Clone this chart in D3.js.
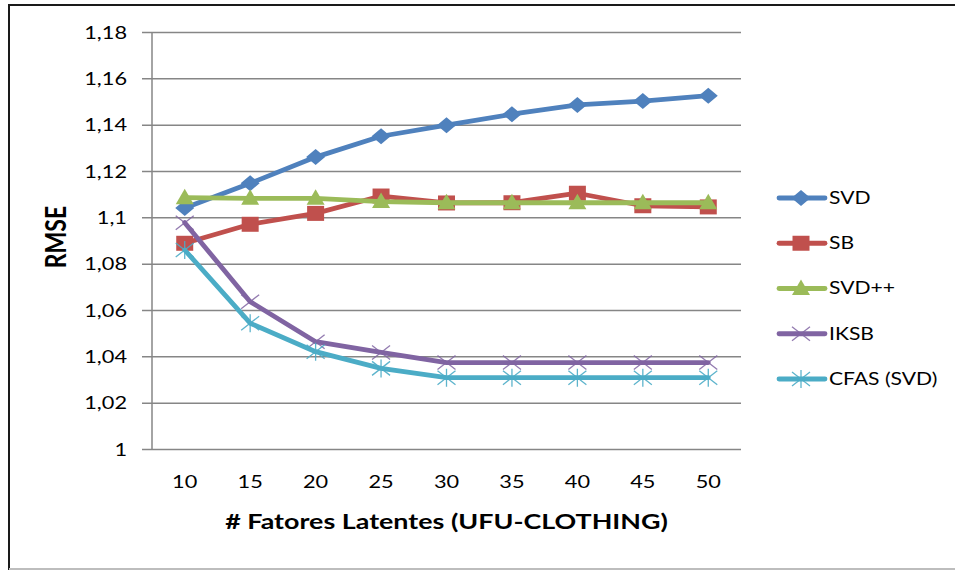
<!DOCTYPE html>
<html>
<head>
<meta charset="utf-8">
<script src="https://cdn.jsdelivr.net/npm/d3@7"></script>
<style>
  html, body { margin: 0; padding: 0; background: #fff; }
  svg { display: block; }
  text { font-family: Lato, "Open Sans", "Liberation Sans", sans-serif; }
</style>
</head>
<body>
<svg id="chart" width="955" height="570"></svg>
<script>
// ---- data ----
const categories = ["10", "15", "20", "25", "30", "35", "40", "45", "50"];
const seriesNames = ["SVD", "SB", "SVD++", "IKSB", "CFAS (SVD)"];
const svdValues   = [1.104, 1.1147, 1.126, 1.135, 1.1398, 1.1445, 1.1485, 1.1502, 1.1525];
const sbValues    = [1.0888, 1.097, 1.1017, 1.1092, 1.1062, 1.1063, 1.1104, 1.105, 1.1045];
const svdppValues = [1.1085, 1.1082, 1.1082, 1.1068, 1.1063, 1.1063, 1.1063, 1.1063, 1.1063];
const iksbValues  = [1.0977, 1.0636, 1.0463, 1.0417, 1.0373, 1.0373, 1.0373, 1.0373, 1.0373];
const cfasValues  = [1.0859, 1.0543, 1.042, 1.0348, 1.0308, 1.0308, 1.0308, 1.0308, 1.0308];
const yTicks      = [1, 1.02, 1.04, 1.06, 1.08, 1.1, 1.12, 1.14, 1.16, 1.18];
const yTickLabels = ["1", "1,02", "1,04", "1,06", "1,08", "1,1", "1,12", "1,14", "1,16", "1,18"];
const xTitle = "# Fatores Latentes (UFU-CLOTHING)";
const yTitle = "RMSE";

const seriesValues = [svdValues, sbValues, svdppValues, iksbValues, cfasValues];
const colors  = ["#4F81BD", "#C0504D", "#9BBB59", "#8064A2", "#4BACC6"];
const markers = ["diamond", "square", "triangle", "x", "asterisk"];

// ---- layout ----
const SX = 1.28; // horizontal stretch of the reference picture
const svg = d3.select("#chart");
const plot = { left: 152, right: 741, top: 32, bottom: 449 };

const x = d3.scaleBand().domain(categories).range([plot.left, plot.right]).padding(0);
const y = d3.scaleLinear().domain([1, 1.18]).range([plot.bottom, plot.top]);
const cx = c => x(c) + x.bandwidth() / 2;

// outer frame
svg.append("rect").attr("x", 9).attr("y", 5).attr("width", 960).attr("height", 564)
  .attr("fill", "none").attr("stroke", "#1a1a1a").attr("stroke-width", 2);
svg.append("line").attr("x1", 9).attr("x2", 955).attr("y1", 569).attr("y2", 569)
  .attr("stroke", "#bdbdbd").attr("stroke-width", 2);

// y axis (gridlines + labels)
const yAxis = d3.axisLeft(y).tickValues(yTicks)
  .tickFormat((d, i) => yTickLabels[i])
  .tickSize(-(plot.right - plot.left) - 10).tickPadding(15);
const gy = svg.append("g").attr("transform", `translate(${plot.left - 10},0)`).call(yAxis);
gy.select(".domain").remove();
gy.selectAll(".tick line").attr("stroke", "#868686").attr("stroke-width", 1.5);
gy.selectAll(".tick text").attr("fill", "#000").attr("font-size", 17).attr("dy", "0.36em")
  .attr("x", 0).attr("transform", `translate(-15,0) scale(${SX},1)`);

// y axis line
svg.append("line").attr("x1", plot.left).attr("x2", plot.left)
  .attr("y1", plot.top).attr("y2", plot.bottom)
  .attr("stroke", "#868686").attr("stroke-width", 1.5);

// x axis labels
const xAxis = d3.axisBottom(x).tickSize(0).tickPadding(0);
const gx = svg.append("g").attr("transform", `translate(0,${plot.bottom})`).call(xAxis);
gx.select(".domain").remove();
gx.selectAll(".tick text").attr("fill", "#000").attr("font-size", 17)
  .attr("y", 0).attr("dy", "0.36em").attr("transform", `translate(0,33) scale(${SX},1)`);

// titles
svg.append("text").attr("transform", `translate(${(plot.left + plot.right) / 2},529) scale(${SX},1)`)
  .attr("text-anchor", "middle").attr("font-size", 21).attr("font-weight", "bold")
  .attr("fill", "#000").text(xTitle);
svg.append("text").attr("transform", `translate(66,237) scale(${SX},1) rotate(-90)`)
  .attr("text-anchor", "middle").attr("font-size", 23).attr("font-weight", "bold")
  .attr("fill", "#000").text(yTitle);

// marker drawing
function drawMarker(g, type, color, px, py) {
  const t = `translate(${px},${py})`;
  if (type === "diamond") {
    g.append("path").attr("d", "M0,-8L9.5,0L0,8L-9.5,0Z").attr("transform", t).attr("fill", color);
  } else if (type === "square") {
    g.append("path").attr("d", "M-8.5,-7.5H8.5V7.5H-8.5Z").attr("transform", t).attr("fill", color);
  } else if (type === "triangle") {
    g.append("path").attr("d", "M0,-9L9,6.5L-9,6.5Z").attr("transform", t).attr("fill", color);
  } else if (type === "x") {
    g.append("path").attr("d", "M-9,-7L9,7M-9,7L9,-7").attr("transform", t)
      .attr("stroke", color).attr("stroke-width", 1.3).attr("fill", "none").attr("opacity", 0.85);
  } else if (type === "asterisk") {
    g.append("path").attr("d", "M-9,-7L9,7M-9,7L9,-7M0,-9L0,9").attr("transform", t)
      .attr("stroke", color).attr("stroke-width", 1.3).attr("fill", "none").attr("opacity", 0.9);
  }
}

// series
const line = d3.line().x((d, i) => cx(categories[i])).y(d => y(d));
seriesValues.forEach((vals, s) => {
  const g = svg.append("g");
  g.append("path").datum(vals).attr("d", line)
    .attr("fill", "none").attr("stroke", colors[s]).attr("stroke-width", 4.8)
    .attr("stroke-linejoin", "round").attr("stroke-linecap", "round");
  vals.forEach((v, i) => drawMarker(g, markers[s], colors[s], cx(categories[i]), y(v)));
});

// legend
const legendY = d3.scalePoint().domain(seriesNames).range([198, 379]);
seriesNames.forEach((name, s) => {
  const ly = legendY(name);
  const g = svg.append("g");
  g.append("line").attr("x1", 779).attr("x2", 825).attr("y1", ly).attr("y2", ly)
    .attr("stroke", colors[s]).attr("stroke-width", 4.8).attr("stroke-linecap", "round");
  drawMarker(g, markers[s], colors[s], 801, ly);
  g.append("text").attr("transform", `translate(829,${ly}) scale(${SX},1)`).attr("dy", "0.36em")
    .attr("font-size", 16.5).attr("fill", "#000").text(name);
});
</script>
</body>
</html>
